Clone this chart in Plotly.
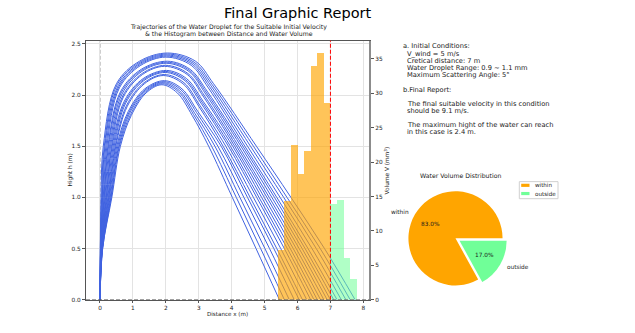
import math
import plotly.graph_objects as go

FIG_W, FIG_H = 635, 333

# ---------------- data ----------------
# trajectories of droplets (x distance m, height m)
traj_x = [
    [0, 0.08, 0.36, 0.62, 0.95, 1.40, 1.88, 2.35, 2.80, 3.30, 4.02, 4.74, 5.45],
    [0, 0.08, 0.34, 0.59, 0.93, 1.39, 1.90, 2.39, 2.84, 3.39, 4.14, 4.88, 5.60],
    [0, 0.07, 0.33, 0.57, 0.90, 1.38, 1.92, 2.42, 2.88, 3.49, 4.25, 5.01, 5.75],
    [0, 0.07, 0.31, 0.54, 0.88, 1.37, 1.94, 2.46, 2.93, 3.58, 4.37, 5.15, 5.90],
    [0, 0.07, 0.29, 0.51, 0.86, 1.36, 1.96, 2.49, 2.97, 3.68, 4.48, 5.28, 6.05],
    [0, 0.06, 0.27, 0.48, 0.83, 1.35, 1.92, 2.52, 3.00, 3.74, 4.56, 5.37, 6.15],
    [0, 0.06, 0.26, 0.46, 0.81, 1.34, 1.95, 2.55, 3.03, 3.82, 4.66, 5.49, 6.28],
    [0, 0.05, 0.24, 0.43, 0.78, 1.33, 1.98, 2.58, 3.07, 3.90, 4.76, 5.60, 6.40],
    [0, 0.05, 0.22, 0.40, 0.76, 1.32, 2.00, 2.60, 3.10, 3.96, 4.83, 5.69, 6.50],
    [0, 0.05, 0.20, 0.37, 0.74, 1.31, 2.02, 2.63, 3.13, 4.03, 4.91, 5.78, 6.60],
    [0, 0.04, 0.19, 0.35, 0.71, 1.29, 1.96, 2.65, 3.15, 4.09, 4.99, 5.87, 6.70],
    [0, 0.04, 0.17, 0.32, 0.69, 1.28, 1.99, 2.67, 3.18, 4.15, 5.07, 5.96, 6.80],
    [0, 0.04, 0.15, 0.29, 0.67, 1.27, 2.01, 2.70, 3.21, 4.21, 5.14, 6.05, 6.90],
    [0, 0.03, 0.13, 0.26, 0.64, 1.26, 2.03, 2.72, 3.24, 4.28, 5.22, 6.14, 7.00],
    [0, 0.03, 0.12, 0.24, 0.62, 1.25, 2.05, 2.74, 3.27, 4.34, 5.30, 6.23, 7.10],
    [0, 0.02, 0.10, 0.21, 0.59, 1.24, 2.00, 2.77, 3.29, 4.40, 5.37, 6.32, 7.20],
    [0, 0.02, 0.08, 0.18, 0.57, 1.23, 2.02, 2.80, 3.33, 4.48, 5.47, 6.44, 7.33],
    [0, 0.02, 0.07, 0.15, 0.55, 1.22, 2.03, 2.83, 3.37, 4.57, 5.58, 6.57, 7.47],
    [0, 0.01, 0.05, 0.13, 0.52, 1.21, 2.04, 2.86, 3.41, 4.66, 5.68, 6.69, 7.60],
    [0, 0.01, 0.03, 0.10, 0.50, 1.20, 2.05, 2.90, 3.45, 4.75, 5.80, 6.82, 7.75],
]
traj_y = [
    [0, 0.5, 1.0, 1.5, 1.80, 2.02, 2.10, 2.02, 1.80, 1.5, 1.0, 0.5, 0],
    [0, 0.5, 1.0, 1.5, 1.81, 2.03, 2.11, 2.03, 1.81, 1.5, 1.0, 0.5, 0],
    [0, 0.5, 1.0, 1.5, 1.82, 2.04, 2.12, 2.04, 1.82, 1.5, 1.0, 0.5, 0],
    [0, 0.5, 1.0, 1.5, 1.83, 2.05, 2.13, 2.05, 1.83, 1.5, 1.0, 0.5, 0],
    [0, 0.5, 1.0, 1.5, 1.84, 2.06, 2.14, 2.06, 1.84, 1.5, 1.0, 0.5, 0],
    [0, 0.5, 1.0, 1.5, 1.89, 2.11, 2.19, 2.11, 1.89, 1.5, 1.0, 0.5, 0],
    [0, 0.5, 1.0, 1.5, 1.90, 2.12, 2.20, 2.12, 1.90, 1.5, 1.0, 0.5, 0],
    [0, 0.5, 1.0, 1.5, 1.92, 2.14, 2.22, 2.14, 1.92, 1.5, 1.0, 0.5, 0],
    [0, 0.5, 1.0, 1.5, 1.93, 2.15, 2.23, 2.15, 1.93, 1.5, 1.0, 0.5, 0],
    [0, 0.5, 1.0, 1.5, 1.94, 2.16, 2.24, 2.16, 1.94, 1.5, 1.0, 0.5, 0],
    [0, 0.5, 1.0, 1.5, 1.98, 2.20, 2.28, 2.20, 1.98, 1.5, 1.0, 0.5, 0],
    [0, 0.5, 1.0, 1.5, 1.99, 2.21, 2.29, 2.21, 1.99, 1.5, 1.0, 0.5, 0],
    [0, 0.5, 1.0, 1.5, 2.01, 2.23, 2.31, 2.23, 2.01, 1.5, 1.0, 0.5, 0],
    [0, 0.5, 1.0, 1.5, 2.02, 2.24, 2.32, 2.24, 2.02, 1.5, 1.0, 0.5, 0],
    [0, 0.5, 1.0, 1.5, 2.03, 2.25, 2.33, 2.25, 2.03, 1.5, 1.0, 0.5, 0],
    [0, 0.5, 1.0, 1.5, 2.07, 2.29, 2.37, 2.29, 2.07, 1.5, 1.0, 0.5, 0],
    [0, 0.5, 1.0, 1.5, 2.08, 2.30, 2.38, 2.30, 2.08, 1.5, 1.0, 0.5, 0],
    [0, 0.5, 1.0, 1.5, 2.09, 2.31, 2.39, 2.31, 2.09, 1.5, 1.0, 0.5, 0],
    [0, 0.5, 1.0, 1.5, 2.10, 2.32, 2.40, 2.32, 2.10, 1.5, 1.0, 0.5, 0],
    [0, 0.5, 1.0, 1.5, 2.11, 2.33, 2.41, 2.33, 2.11, 1.5, 1.0, 0.5, 0],
]

# histogram of water volume vs landing distance
bin_left = [5.4, 5.6, 5.8, 6.0, 6.2, 6.4, 6.6, 6.8, 7.0, 7.2, 7.4, 7.6]
hist_volume = [7.3, 14.4, 22.5, 18.3, 21.7, 34.0, 35.9, 28.7, 13.9, 14.5, 6.1, 3.1]
bin_width = 0.2
critical_distance = 7.0

# pie
pie_labels = ["within", "outside"]
pie_values = [83.0, 17.0]
pie_colors = ["#FFA500", "#70FF98"]

x_ticks = [0, 1, 2, 3, 4, 5, 6, 7, 8]
y_ticks = [0.0, 0.5, 1.0, 1.5, 2.0, 2.5]
y2_ticks = [0, 5, 10, 15, 20, 25, 30, 35]

info_lines = [
    ("a. Initial Conditions:", 401, 46.5),
    ("V_wind = 5 m/s", 405, 54.0),
    ("Cretical distance: 7 m", 405, 61.3),
    ("Water Droplet Range: 0.9 ~ 1.1 mm", 405, 68.6),
    ("Maximum Scattering Angle: 5°", 405, 75.9),
    ("b.Final Report:", 401, 90.5),
    ("The final suitable velocity in this condition", 405, 104.8),
    ("should be 9.1 m/s.", 405, 112.1),
    ("The maximum hight of the water can reach", 405, 126.2),
    ("in this case is 2.4 m.", 405, 133.5),
]

# ---------------- helpers ----------------
def px(x):
    return x / FIG_W

def py(y):
    return 1 - y / FIG_H

FONT = "DejaVu Sans"
TXT = "#1a1a1a"

# main axes geometry (pixels)
AX_L, AX_R, AX_T, AX_B = 86, 369.3, 41, 302.5

fig = go.Figure()

for xs, ys in zip(traj_x, traj_y):
    fig.add_trace(go.Scatter(
        x=xs, y=ys, mode="lines",
        line=dict(color="#4163E0", width=1, shape="spline", smoothing=1.0),
        showlegend=False, hoverinfo="skip", xaxis="x", yaxis="y"))

bar_colors = ["rgba(255,165,0,0.65)" if (b + bin_width / 2) < critical_distance
              else "rgba(112,255,152,0.55)" for b in bin_left]
fig.add_trace(go.Bar(
    x=[b + bin_width / 2 for b in bin_left], y=hist_volume, width=bin_width,
    marker=dict(color=bar_colors, line=dict(width=0)),
    showlegend=False, xaxis="x", yaxis="y2"))

# pie (first slice starts at 3 o'clock, counterclockwise, like matplotlib)
pie_cx, pie_cy, pie_r = 455.5, 240.5, 47.5
pull = [0, 0.1]
half = pie_r * (1 + max(pull))
total = sum(pie_values)
rotation = 90 + 360 * (1 - pie_values[0] / total)
fig.add_trace(go.Pie(
    labels=pie_labels, values=pie_values, marker=dict(colors=pie_colors, line=dict(width=0)),
    pull=pull, sort=False, direction="counterclockwise", rotation=rotation,
    textinfo="none", showlegend=False, hoverinfo="skip",
    domain=dict(x=[px(pie_cx - half), px(pie_cx + half)],
                y=[py(pie_cy + half), py(pie_cy - half)])))

annotations = []
# pie labels computed from values (matplotlib-like placement)
start = 0.0
for lab, val, pl in zip(pie_labels, pie_values, pull):
    frac = val / total
    mid = math.radians(360 * (start + frac / 2))
    start += frac
    ox = pie_cx + pl * pie_r * math.cos(mid)
    oy = pie_cy - pl * pie_r * math.sin(mid)
    lx = ox + 1.1 * pie_r * math.cos(mid)
    ly = oy - 1.1 * pie_r * math.sin(mid)
    annotations.append(dict(x=px(lx), y=py(ly), xref="paper", yref="paper", text=lab,
                            showarrow=False, xanchor="right" if math.cos(mid) < 0 else "left",
                            yanchor="middle", font=dict(size=5.8, family=FONT, color=TXT)))
    tx = ox + 0.6 * pie_r * math.cos(mid)
    ty = oy - 0.6 * pie_r * math.sin(mid)
    annotations.append(dict(x=px(tx), y=py(ty), xref="paper", yref="paper",
                            text=f"{100 * frac:.1f}%", showarrow=False, xanchor="center",
                            yanchor="middle", font=dict(size=5.8, family=FONT, color=TXT)))

# titles
annotations.append(dict(x=px(297.5), y=py(13.5), xref="paper", yref="paper",
                        text="Final Graphic Report", showarrow=False, xanchor="center",
                        yanchor="middle", font=dict(size=14.5, family=FONT, color="#000")))
annotations.append(dict(x=px(228.5), y=py(27.7), xref="paper", yref="paper",
                        text="Trajectories of the Water Droplet for the Suitable Initial Velocity",
                        showarrow=False, xanchor="center", yanchor="middle",
                        font=dict(size=6.2, family=FONT, color=TXT)))
annotations.append(dict(x=px(228.5), y=py(34.6), xref="paper", yref="paper",
                        text="& the Histogram between Distance and Water Volume",
                        showarrow=False, xanchor="center", yanchor="middle",
                        font=dict(size=6.2, family=FONT, color=TXT)))
# axis titles
annotations.append(dict(x=px(227.5), y=py(317), xref="paper", yref="paper",
                        text="Distance x (m)", showarrow=False, xanchor="center", yanchor="middle",
                        font=dict(size=5.6, family=FONT, color=TXT)))
annotations.append(dict(x=px(70), y=py(172), xref="paper", yref="paper", textangle=-90,
                        text="Hight h (m)", showarrow=False, xanchor="center", yanchor="middle",
                        font=dict(size=5.8, family=FONT, color=TXT)))
annotations.append(dict(x=px(386), y=py(172), xref="paper", yref="paper", textangle=-90,
                        text="Volume V (mm<sup>3</sup>)", showarrow=False, xanchor="center",
                        yanchor="middle", font=dict(size=5.8, family=FONT, color=TXT)))
# info text
for t, x0, y0 in info_lines:
    annotations.append(dict(x=px(x0), y=py(y0), xref="paper", yref="paper", text=t,
                            showarrow=False, xanchor="left", yanchor="middle",
                            font=dict(size=6.7, family=FONT, color=TXT)))
# pie title
annotations.append(dict(x=px(460), y=py(177.3), xref="paper", yref="paper",
                        text="Water Volume Distribution", showarrow=False, xanchor="center",
                        yanchor="middle", font=dict(size=6.2, family=FONT, color=TXT)))
# custom legend text
for lab, yy in zip(pie_labels, [187.0, 195.3]):
    annotations.append(dict(x=px(532.5), y=py(yy), xref="paper", yref="paper", text=lab,
                            showarrow=False, xanchor="left", yanchor="middle",
                            font=dict(size=5.6, family=FONT, color=TXT)))

shapes = [
    # x = 0 dashed gray line
    dict(type="line", xref="x", yref="paper", x0=0, x1=0, y0=py(AX_B), y1=py(AX_T),
         line=dict(color="#9a9a9a", width=1, dash="4px,2px"), layer="below"),
    # y = 0 dashed line
    dict(type="line", xref="paper", yref="y", x0=px(AX_L), x1=px(AX_R), y0=0, y1=0,
         line=dict(color="#555555", width=1, dash="4px,2px"), layer="above"),
    # critical distance red dashed
    dict(type="line", xref="x", yref="paper", x0=critical_distance, x1=critical_distance,
         y0=py(AX_B), y1=py(AX_T), line=dict(color="#ff0000", width=1, dash="4px,2px"),
         layer="above"),
    # legend frame
    dict(type="rect", xref="paper", yref="paper", x0=px(519.3), x1=px(558),
         y0=py(200.5), y1=py(183.3), line=dict(color="#d0d0d0", width=1),
         fillcolor="rgba(255,255,255,0.9)", layer="above"),
]
for col, yy in zip(pie_colors, [187.0, 195.3]):
    shapes.append(dict(type="rect", xref="paper", yref="paper", x0=px(521.2), x1=px(529.5),
                       y0=py(yy + 1.6), y1=py(yy - 1.6), line=dict(width=0), fillcolor=col,
                       layer="above"))

tickfont = dict(size=5.8, family=FONT, color=TXT)
fig.update_layout(
    width=FIG_W, height=FIG_H,
    margin=dict(l=0, r=0, t=0, b=0),
    paper_bgcolor="white", plot_bgcolor="white",
    showlegend=False, bargap=0,
    xaxis=dict(domain=[px(AX_L), px(AX_R)], range=[-0.425, 8.18], tickvals=x_ticks,
               ticktext=[str(v) for v in x_ticks], showgrid=True, gridcolor="#e3e3e3",
               gridwidth=1, zeroline=False, showline=True, linecolor="#555", linewidth=1,
               mirror=True, ticks="outside", ticklen=2.5, tickcolor="#555", tickfont=tickfont,
               anchor="y", fixedrange=True),
    yaxis=dict(domain=[py(AX_B), py(AX_T)], range=[0, 2.531], tickvals=y_ticks,
               ticktext=[f"{v:.1f}" for v in y_ticks], showgrid=True, gridcolor="#e3e3e3",
               gridwidth=1, zeroline=False, showline=True, linecolor="#555", linewidth=1,
               ticks="outside", ticklen=3, tickcolor="#555", tickfont=tickfont, anchor="x"),
    yaxis2=dict(overlaying="y", side="right", anchor="x", range=[0, 37.65],
                tickvals=y2_ticks, ticktext=[str(v) for v in y2_ticks], showgrid=False,
                zeroline=False, showline=True, linecolor="#8c8c8c", linewidth=1.5,
                ticks="outside", ticklen=3, tickcolor="#555", tickfont=tickfont),
    annotations=annotations,
    shapes=shapes,
)

fig.write_html("out.html")
